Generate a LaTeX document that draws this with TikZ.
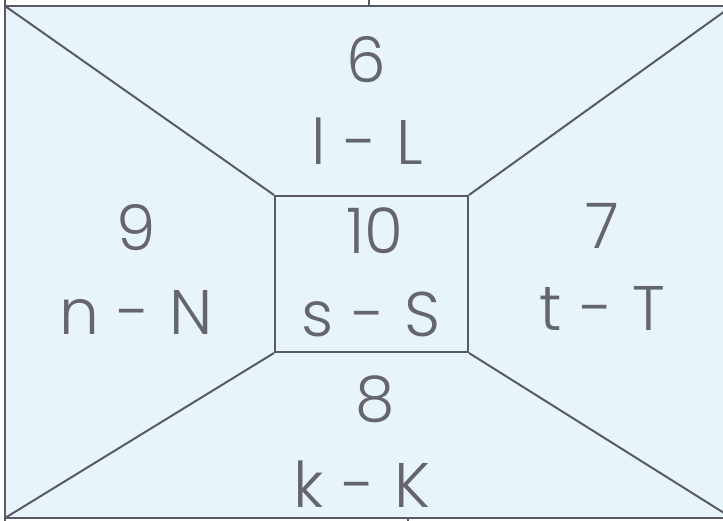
\documentclass[tikz,border=0pt]{standalone}
\usepackage{fontspec}
\setmainfont{Poppins}[UprightFont=* Light]
\definecolor{sheetblue}{HTML}{E7F4FA}
\definecolor{linegray}{HTML}{5A5A66}
\definecolor{inkgray}{HTML}{65656E}
\newcommand{\dashgap}{\hspace{19pt}-\hspace{19pt}}
\tikzset{
  letters/.style={text=inkgray,font=\fontsize{63}{63}\selectfont,inner sep=0pt,anchor=center}
}
\begin{document}
\begin{tikzpicture}[x=1pt,y=-1pt,line width=2pt]
	\useasboundingbox[fill=white] (0,0) rectangle (723,521);
	\clip (0,0) rectangle (723,521);
	\coordinate (tl) at (5,6);
	\coordinate (tr) at (732,6);
	\coordinate (bl) at (5,518);
	\coordinate (br) at (732,518);
	\fill[sheetblue] (tl) rectangle (br);
	\draw[linegray] (tl) rectangle (br);
	\draw[linegray] (5,0) -- (tl);
	\draw[linegray] (bl) -- (5,521);
	\draw[linegray] (369,0) -- (369,6);
	\draw[linegray] (408,518) -- (408,521);
	% centre box
	\node[draw=linegray,minimum width=193pt,minimum height=156pt,inner sep=0pt] (box) at (371.5,274) {};
	\draw[linegray] (tl) -- (box.north west);
	\draw[linegray] (tr) -- (box.north east);
	\draw[linegray] (bl) -- (box.south west);
	\draw[linegray] (br) -- (box.south east);
	% labels
	\node[letters] (n6) at (366,60) {6};
	\node[letters] (l6) at (367,141) {l\dashgap L};
	\node[letters] (n10) at (375,231) {10};
	\node[letters] (l10) at (371,314) {s\dashgap S};
	\node[letters] (n9) at (136,228) {9};
	\node[letters] (l9) at (136,312) {n\dashgap N};
	\node[letters] (n7) at (602,226) {7};
	\node[letters] (l7) at (602,308) {t\dashgap T};
	\node[letters] (n8) at (375,399) {8};
	\node[letters] (l8) at (362,484) {k\dashgap K};
\end{tikzpicture}
\end{document}
